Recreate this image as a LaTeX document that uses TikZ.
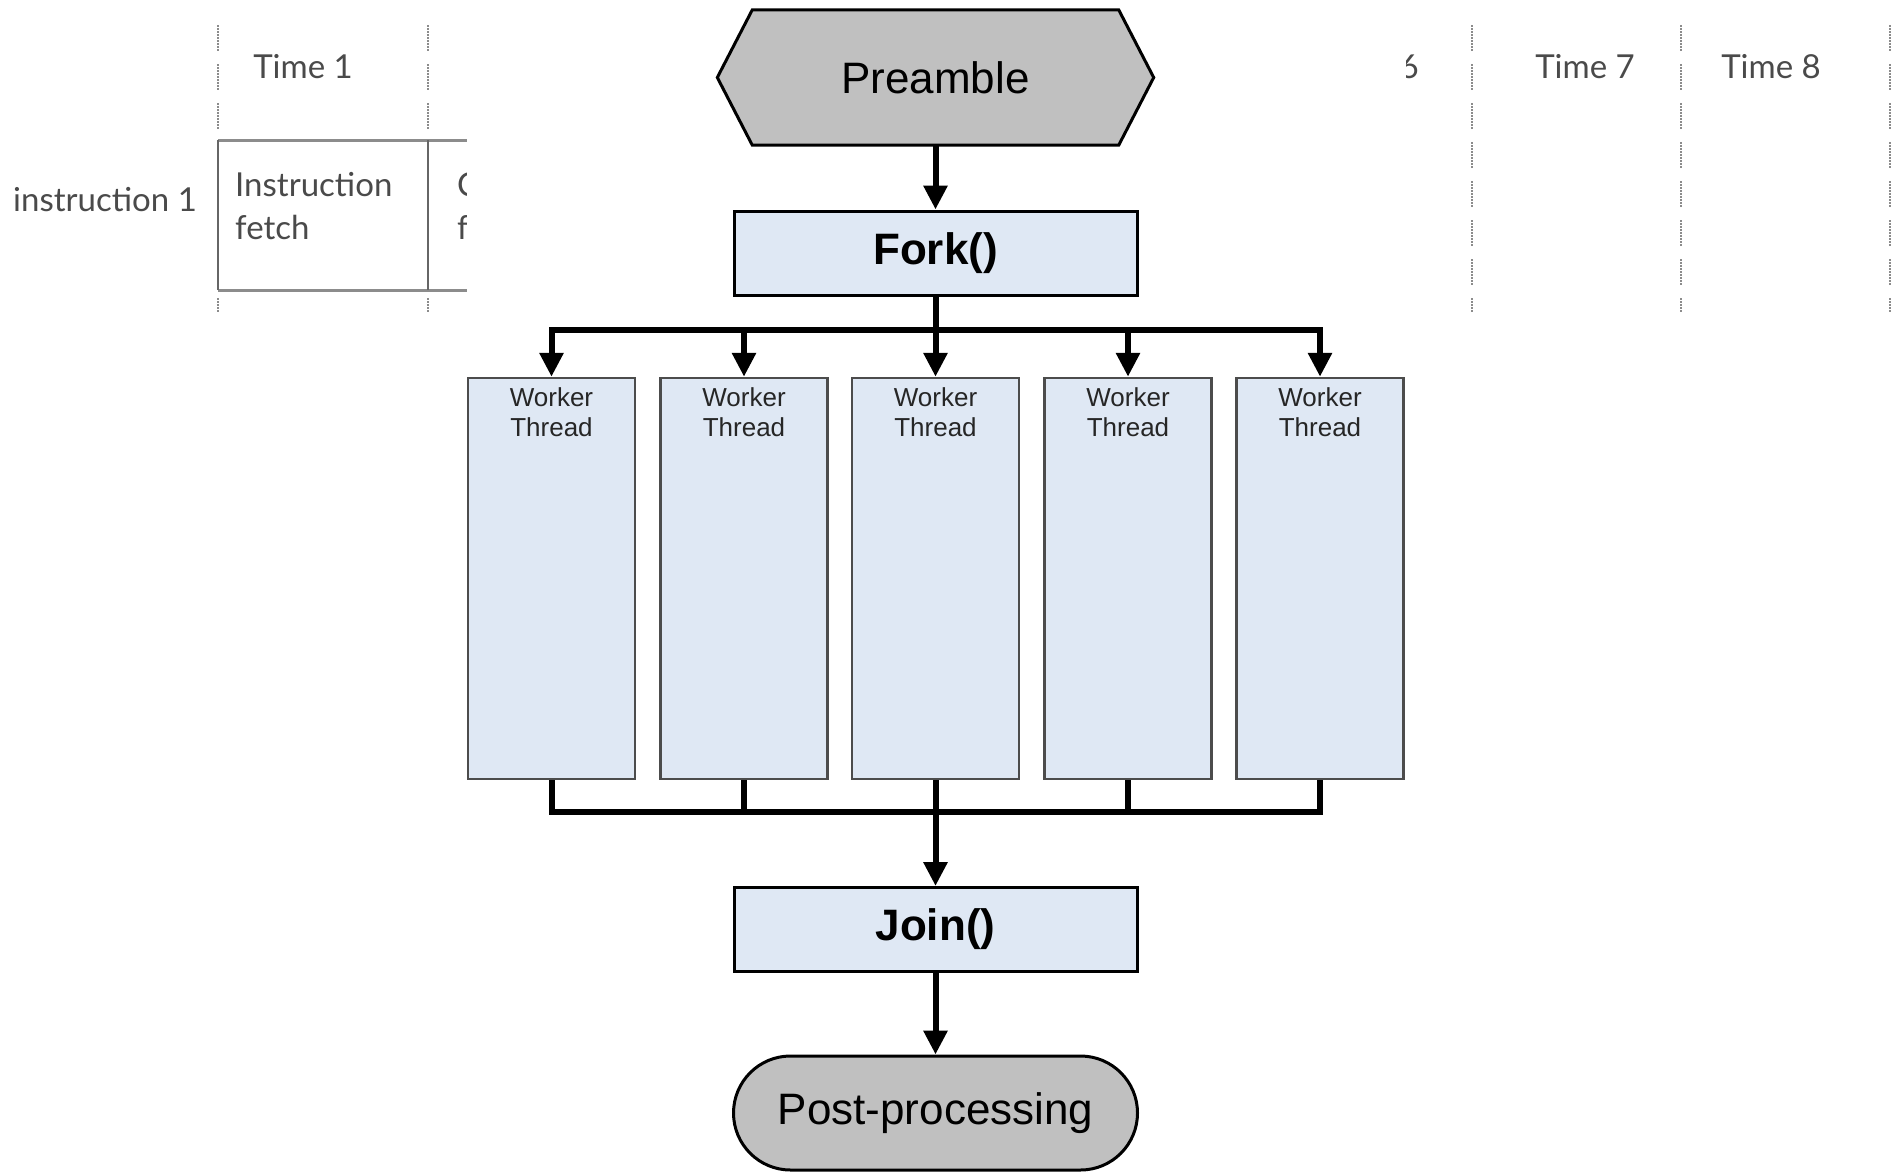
\documentclass[tikz,border=0pt]{standalone}
\usepackage{fontspec}
\setmainfont{Liberation Sans}
\newfontfamily\gillfont{Lato}
\usetikzlibrary{arrows.meta,shapes.misc}
\definecolor{boxblue}{HTML}{DFE8F4}
\definecolor{boxgray}{HTML}{C0C0C0}
\definecolor{tblgray}{HTML}{8C8C8C}
\definecolor{tbltext}{HTML}{4A4A4A}
\begin{document}
\begin{tikzpicture}[x=1pt,y=-1pt,
  bigtext/.style={font=\fontsize{44}{52}\selectfont},
  procbox/.style={draw=black, line width=3pt, fill=boxblue, minimum width=403pt, minimum height=84pt, inner sep=0pt, font=\fontsize{44}{52}\selectfont\bfseries},
  postbox/.style={rounded rectangle, draw=black, line width=3pt, fill=boxgray, minimum width=404pt, minimum height=114pt, inner sep=0pt, font=\fontsize{44}{52}\selectfont},
  worker/.style={draw=black!70, line width=2.5pt, fill=boxblue, minimum width=167pt, minimum height=401pt, inner sep=0pt},
  wlabel/.style={font=\fontsize{26}{30}\selectfont, align=center, inner sep=0pt, text=black!85},
  flow/.style={line width=6pt, black, line join=miter},
  flowarr/.style={flow, -{Triangle[width=23pt,length=24pt]}},
  gridline/.style={tblgray, line width=2pt, dash pattern={on 1.5pt off 1.5pt on 1.5pt off 1.5pt on 1.5pt off 1.5pt on 1.5pt off 1.5pt on 1.5pt off 1.5pt on 1.5pt off 1.5pt on 1.5pt off 1.5pt on 1.5pt off 1.5pt on 1.5pt off 13.5pt}},
  tbltxt/.style={font=\gillfont\fontsize{33}{43}\selectfont, text=tbltext, inner sep=0pt}
]
\useasboundingbox (0,0) rectangle (1900,1171);
\fill[white] (0,0) rectangle (1900,1171);

% background pipeline table
\foreach \x in {218,428,1472,1681,1890} \draw[gridline] (\x,25) -- (\x,313);
\draw[tblgray, line width=3pt] (218,140) -- (470,140) (218,290) -- (470,290);
\draw[black!60, line width=2.5pt] (218,140) -- (218,290) (428,140) -- (428,290);
\node[tbltxt] (t1) at (303,67) {Time 1};
\node[tbltxt,anchor=east] (t6) at (1419,67) {6};
\node[tbltxt] (t7) at (1585,67) {Time 7};
\node[tbltxt] (t8) at (1771,67) {Time 8};
\node[tbltxt,anchor=west] (i1) at (13,200) {instruction 1};
\node[tbltxt,anchor=west,align=left] (if) at (235,206) {Instruction\\fetch};
\node[tbltxt,anchor=west,align=left] (op) at (457,206) {C\\f};

% cover of the diagram
\fill[white] (466.5,0) rectangle (1406,1171);

% diagram
\node[minimum width=436pt, minimum height=135pt, inner sep=0pt, bigtext] (pre) at (935.5,77.5) {};
\draw[black, line width=3pt, fill=boxgray, line join=miter]
  (pre.west) -- ([xshift=35pt]pre.north west) -- ([xshift=-35pt]pre.north east)
  -- (pre.east) -- ([xshift=-35pt]pre.south east) -- ([xshift=35pt]pre.south west) -- cycle;
\node[bigtext] at (pre.center) {Preamble};

\node[procbox] (fork) at (935.5,253) {Fork()};
\foreach \n/\x in {w1/551.5,w2/744,w3/935.5,w4/1128,w5/1320}
  \node[worker, label={[wlabel,anchor=north,yshift=-10.5pt]north:Worker\\Thread}] (\n) at (\x,578.5) {};
\node[procbox] (join) at (935.5,929.5) {Join()};
\node[postbox] (post) at (935.5,1113) {Post-processing};

\coordinate (busT) at (935.5,330);
\coordinate (busB) at (935.5,812);

\draw[flowarr] (pre.south) -- (fork.north);
\foreach \w in {w1,w2,w3,w4,w5}
  \draw[flowarr] (fork.south) -- (busT) -| (\w.north);
\foreach \w in {w1,w2,w4,w5}
  \draw[flow] (\w.south) |- (busB);
\draw[flowarr] (w3.south) -- (busB) -- (join.north);
\draw[flowarr] (join.south) -- (post.north);
\end{tikzpicture}
\end{document}
